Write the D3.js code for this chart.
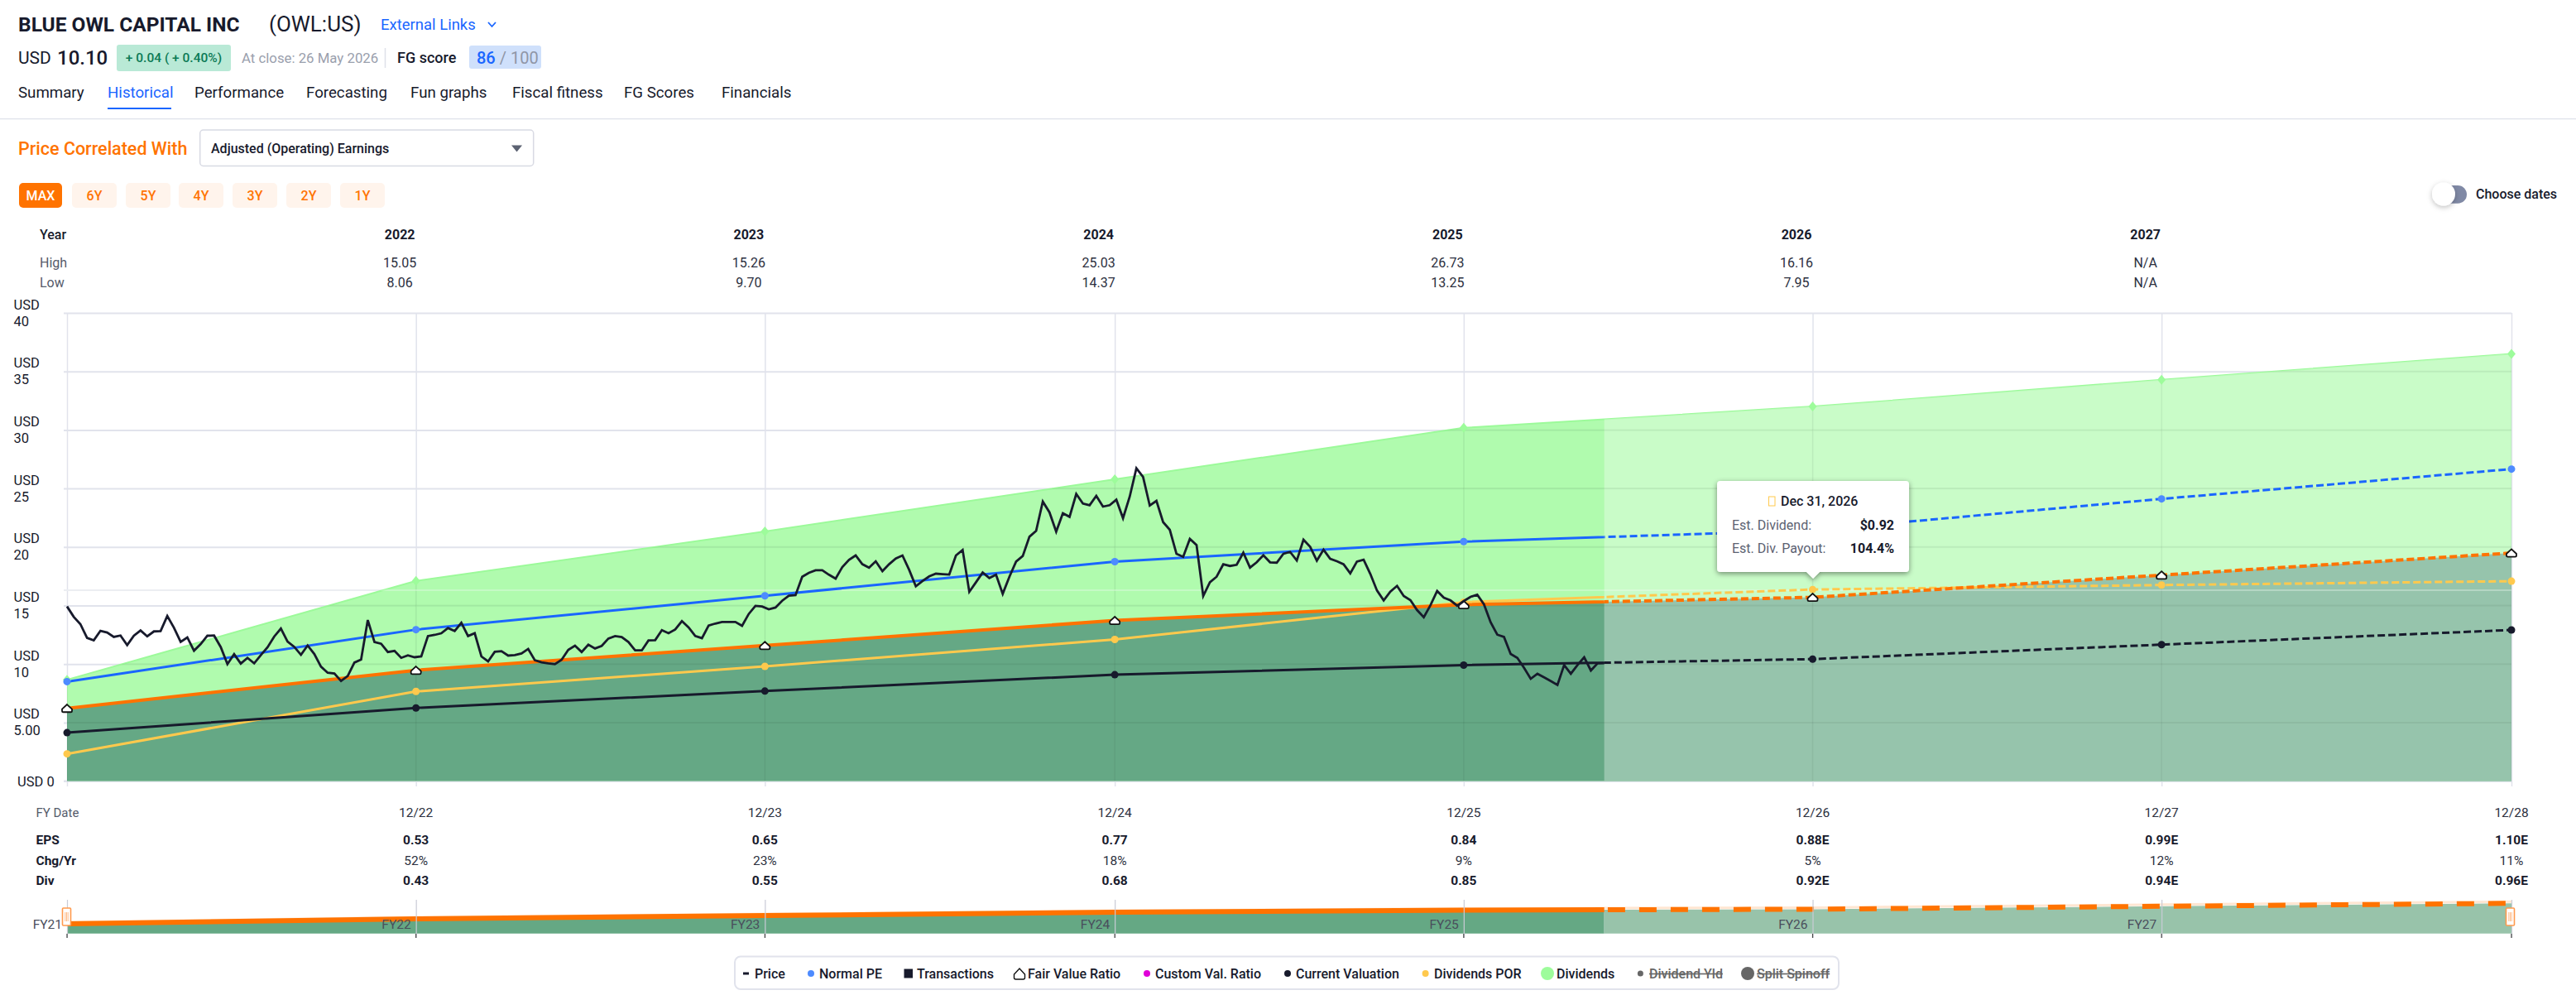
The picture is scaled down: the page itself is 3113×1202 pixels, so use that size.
<!DOCTYPE html>
<html><head><meta charset="utf-8">
<script src="https://cdn.jsdelivr.net/npm/d3@7/dist/d3.min.js"></script>
<style>
html,body{margin:0;padding:0;background:#fff;width:3113px;height:1202px;overflow:hidden}
svg{display:block;font-family:Roboto,sans-serif}
text{font-family:Roboto,sans-serif}
</style></head><body>
<svg id="c" width="3113" height="1202" viewBox="0 0 3113 1202"></svg>
<script>
// ---- data ----
const fyLabels=["12/21","12/22","12/23","12/24","12/25","12/26","12/27","12/28"];
const fyDates=["2021-12-31","2022-12-31","2023-12-31","2024-12-31","2025-12-31","2026-12-31","2027-12-31","2028-12-31"];
const normalPE=[8.50,12.94,15.83,18.75,20.46,21.43,24.11,26.66];
const currentVal=[4.14,6.25,7.69,9.09,9.91,10.42,11.66,12.91];
const fairValue=[6.22,9.47,11.58,13.72,15.07,15.70,17.60,19.49];
const dividendsPOR=[2.33,7.66,9.80,12.10,15.29,16.37,16.75,17.08];
const dividends=[8.66,17.10,21.33,25.79,30.18,32.00,34.29,36.50];
const priceFirstDate="2021-12-31", priceLastDate="2026-05-27";
const priceValues=[14.92,14.04,13.41,12.23,12.02,12.84,12.70,12.32,12.44,11.62,12.42,12.87,12.37,12.79,12.82,14.11,13.10,11.90,12.28,11.14,11.71,12.42,12.44,11.45,9.99,10.84,10.04,10.53,10.06,10.77,11.43,12.35,13.03,11.92,11.47,10.79,11.59,10.86,9.78,9.26,9.19,8.55,8.98,10.13,10.39,13.76,11.88,11.73,11.03,11.12,10.53,10.74,10.58,10.65,12.39,12.49,12.63,13.08,12.82,13.53,12.39,12.63,10.65,10.23,11.05,11.10,10.72,10.77,10.91,11.29,10.32,10.15,10.06,9.99,10.37,11.22,11.57,11.03,11.66,11.33,11.55,12.18,12.39,12.30,
11.88,11.17,11.17,12.02,12.04,12.89,12.63,12.96,13.67,13.13,12.40,12.21,13.29,13.46,13.60,13.60,13.60,13.27,14.28,14.97,14.92,14.68,14.83,15.41,15.84,15.89,17.46,17.79,18.01,18.01,17.63,17.30,18.29,18.90,19.28,18.53,18.24,18.78,17.94,18.53,19.02,19.28,18.05,16.64,17.09,17.49,17.72,17.68,17.65,19.28,19.75,16.17,16.99,17.82,17.35,17.63,16.00,17.46,18.76,19.23,20.88,21.38,23.88,22.96,21.31,22.89,22.58,
24.53,23.71,23.57,24.37,23.45,23.57,24.04,22.46,24.30,26.73,25.99,23.54,23.94,22.13,21.47,19.42,19.16,20.69,20.17,15.81,16.99,17.46,18.52,18.38,18.48,19.51,18.24,18.69,19.30,18.69,18.66,19.42,19.58,18.85,20.62,20.01,18.83,19.77,18.99,18.78,18.52,17.75,18.76,18.92,17.70,16.28,15.44,16.19,16.68,15.81,15.46,14.61,14.00,15.03,16.24,15.67,15.44,14.99,15.39,15.74,15.93,15.11,13.57,12.51,12.32,10.86,10.53,9.68,8.74,9.17,8.86,8.55,8.22,9.92,9.17,9.92,10.58,9.45,10.06,10.08];
const yTicks=[0,5,10,15,20,25,30,35,40];
const yTickLabels=["USD 0","5.00","10","15","20","25","30","35","40"];
const highLine=16.3;
const tableYears=["2022","2023","2024","2025","2026","2027"];
const tableHigh=["15.05","15.26","25.03","26.73","16.16","N/A"];
const tableLow=["8.06","9.70","14.37","13.25","7.95","N/A"];
const epsRow=["0.53","0.65","0.77","0.84","0.88E","0.99E","1.10E"];
const chgRow=["52%","23%","18%","9%","5%","12%","11%"];
const divRow=["0.43","0.55","0.68","0.85","0.92E","0.94E","0.96E"];
const navLabels=["FY21","FY22","FY23","FY24","FY25","FY26","FY27"];
const tabs=["Summary","Historical","Performance","Forecasting","Fun graphs","Fiscal fitness","FG Scores","Financials"];
const ranges=["MAX","6Y","5Y","4Y","3Y","2Y","1Y"];

// ---- colours ----
const C={ink:"#171a2c",grid:"#e1e3ec",orange:"#ff7300",blue:"#1a66ff",blueM:"#4d8bff",yellow:"#ffc94d",green:"#9cfa9a",
 greenM:"#9dfc9b",dark:"#52937a",grey:"#555b6b"};

const svg=d3.select("#c");
const pd=d3.utcParse("%Y-%m-%d");
const dates=fyDates.map(pd);
const x=d3.scaleUtc().domain([dates[0],dates[7]]).range([81,3035]);
const y=d3.scaleLinear().domain([0,40]).range([943.6,378]);
const navY=d3.scaleLinear().domain([0,40]).range([1127.7,1053]);
const idxToDate=d3.scaleUtc().domain([0,priceValues.length-1]).range([pd(priceFirstDate),pd(priceLastDate)]);
const cut=pd(priceLastDate);
function T(sel,s,xx,yy,o={}){
  return sel.append("text").text(s).attr("x",xx).attr("y",yy).attr("dominant-baseline","central")
   .attr("font-size",o.size||16).attr("font-weight",o.w||400).attr("fill",o.fill||C.ink)
   .attr("text-anchor",o.anchor||"start").attr("text-decoration",o.deco||null);
}

// ---- header ----
const H=svg.append("g");
T(H,"BLUE OWL CAPITAL INC",22,29,{size:24.5,w:700});
T(H,"(OWL:US)",325,29,{size:26});
T(H,"External Links",460,30,{size:18.5,fill:C.blue});
H.append("path").attr("d","M590,27 l4.5,5 l4.5,-5").attr("fill","none").attr("stroke",C.blue).attr("stroke-width",1.8);
T(H,"USD",22,69.5,{size:21});
T(H,"10.10",69,69.5,{size:24,w:500});
H.append("rect").attr("x",141).attr("y",54).attr("width",138).attr("height",32).attr("rx",3).attr("fill","#b9e9d6");
T(H,"+ 0.04 ( + 0.40%)",210,69.5,{size:15.5,w:500,fill:"#0b7a55",anchor:"middle"});
T(H,"At close: 26 May 2026",292,69.5,{size:16.8,fill:"#9aa0ad"});
H.append("line").attr("x1",465.5).attr("x2",465.5).attr("y1",58).attr("y2",82).attr("stroke","#dfe1e8").attr("stroke-width",1.5);
T(H,"FG score",480,69.5,{size:18,w:500});
H.append("rect").attr("x",567).attr("y",55).attr("width",87).attr("height",28).attr("rx",3).attr("fill","#cfe0fb");
const fg=T(H,"86",576,69.5,{size:20,w:500,fill:C.blue});
fg.append("tspan").text(" / 100").attr("fill","#8f96a6").attr("font-weight",400);

const tabX=[22,130,235,370,496,619,754,872];
tabs.forEach((t,i)=>T(H,t,tabX[i],112,{size:18.7,fill:i==1?C.blue:C.ink}));
H.append("rect").attr("x",130).attr("y",130).attr("width",77).attr("height",2).attr("fill",C.blue);
H.append("line").attr("x1",0).attr("x2",3113).attr("y1",143.7).attr("y2",143.7).attr("stroke","#dfe1ea").attr("stroke-width",1.2);
T(H,"Price Correlated With",22,179,{size:21.5,w:500,fill:C.orange});
H.append("rect").attr("x",241.7).attr("y",157).attr("width",403).attr("height",43.5).attr("rx",4).attr("fill","#fff").attr("stroke","#d8dae3").attr("stroke-width",1.5);
T(H,"Adjusted (Operating) Earnings",255,179,{size:16,w:500});
H.append("path").attr("d","M618,175.5 h13 l-6.5,8 z").attr("fill","#5c6272");
const rangeX=[[23,75],[87,141],[152,206],[216,270],[281,335],[346,400],[411,465]];
ranges.forEach((r,i)=>{
  H.append("rect").attr("x",rangeX[i][0]).attr("y",221).attr("width",rangeX[i][1]-rangeX[i][0]).attr("height",30).attr("rx",5).attr("fill",i==0?"#ff7300":"#fff4ec");
  T(H,r,(rangeX[i][0]+rangeX[i][1])/2,236,{size:16,w:500,fill:i==0?"#fff":"#ff7300",anchor:"middle"});
});
// toggle
const tf=svg.append("defs").append("filter").attr("id","sh").attr("x","-50%").attr("y","-50%").attr("width","200%").attr("height","200%");
tf.append("feDropShadow").attr("dx",0).attr("dy",2).attr("stdDeviation",3).attr("flood-color","#000").attr("flood-opacity",.25);
H.append("rect").attr("x",2940).attr("y",224).attr("width",41).attr("height",21.7).attr("rx",10.8).attr("fill","#8089a5");
H.append("circle").attr("cx",2953).attr("cy",234.5).attr("r",14).attr("fill","#fff").attr("filter","url(#sh)");
T(H,"Choose dates",2992,234,{size:16,w:500});

// ---- top table ----
T(H,"Year",48,283,{size:16,w:500});
T(H,"High",48,317,{size:16,fill:C.grey});
T(H,"Low",48,341,{size:16,fill:C.grey});
const tableX=i=>x(dates[i+1])-19.5;
tableYears.forEach((v,i)=>{
  T(H,v,tableX(i),283,{size:16,w:700,anchor:"middle"});
  T(H,tableHigh[i],tableX(i),317,{size:16,anchor:"middle",fill:"#2c3040"});
  T(H,tableLow[i],tableX(i),341,{size:16,anchor:"middle",fill:"#2c3040"});
});

// ---- plot: gridlines ----
const G=svg.append("g");
const gridY=G.append("g").attr("transform","translate(77,0)").call(d3.axisLeft(y).tickValues(yTicks).tickSize(-(3035-77)).tickFormat(""));
gridY.select(".domain").remove();
gridY.selectAll("line").attr("stroke",C.grid).attr("stroke-width",2);
const gridX=G.append("g").attr("transform","translate(0,950)").call(d3.axisBottom(x).tickValues(dates).tickSize(-572).tickFormat(""));
gridX.select(".domain").remove();
gridX.selectAll("line").attr("stroke",C.grid).attr("stroke-width",1.5);
G.append("line").attr("x1",77).attr("x2",3035).attr("y1",y(highLine)).attr("y2",y(highLine)).attr("stroke","#eceef2").attr("stroke-width",2);

// y tick labels
yTicks.forEach((v,i)=>{
  if(v===0){T(G,yTickLabels[i],21,944,{size:16.5});return;}
  T(G,"USD",16.6,y(v)-10,{size:16.5});
  T(G,yTickLabels[i],16.6,y(v)+10,{size:16.5});
});

// ---- areas ----
const idx=d3.range(fyDates.length);
const area=(arr,yy)=>d3.area().x(i=>x(dates[i])).y0(yy(0)).y1(i=>yy(arr[i]));
const A=svg.append("g");
A.append("path").datum(idx).attr("d",area(dividends,y)).attr("fill",C.green).attr("fill-opacity",.8);
A.append("path").datum(idx).attr("d",d3.line().x(i=>x(dates[i])).y(i=>y(dividends[i]))).attr("fill","none").attr("stroke",C.green).attr("stroke-width",2);
A.append("path").datum(idx).attr("d",area(fairValue,y)).attr("fill",C.dark).attr("fill-opacity",.8);
// forecast wash: white veil from the last price date to the end
const defs=svg.select("defs");
defs.append("clipPath").attr("id","wash").append("path").datum(idx).attr("d",area(dividends,y));
A.append("rect").attr("x",x(cut)).attr("y",y(40)).attr("width",x(dates[7])-x(cut)).attr("height",y(0)-y(40)).attr("fill","#fff").attr("fill-opacity",.32).attr("clip-path","url(#wash)");
// grid seen through the areas
const overGrid=svg.append("g").attr("clip-path","url(#wash)");
yTicks.filter(v=>v>0).forEach(v=>overGrid.append("line").attr("x1",81).attr("x2",3035).attr("y1",y(v)).attr("y2",y(v)).attr("stroke","#000").attr("stroke-opacity",.05).attr("stroke-width",2));
dates.forEach(d=>overGrid.append("line").attr("x1",x(d)).attr("x2",x(d)).attr("y1",378).attr("y2",944).attr("stroke","#000").attr("stroke-opacity",.05).attr("stroke-width",1.5));
overGrid.append("line").attr("x1",81).attr("x2",3035).attr("y1",y(highLine)).attr("y2",y(highLine)).attr("stroke","#fff").attr("stroke-opacity",.3).attr("stroke-width",2);
// base line
G.append("line").attr("x1",77).attr("x2",3035).attr("y1",y(0)).attr("y2",y(0)).attr("stroke",C.grid).attr("stroke-width",2);

// ---- series lines split at the last price date ----
const L=svg.append("g");
defs.append("clipPath").attr("id","past").append("rect").attr("x",0).attr("y",0).attr("width",x(cut)).attr("height",1202);
defs.append("clipPath").attr("id","fut").append("rect").attr("x",x(cut)).attr("y",0).attr("width",3113).attr("height",1202);
function series(arr,col,w,dash){
  const ln=d3.line().x(i=>x(dates[i])).y(i=>y(arr[i]));
  L.append("path").datum(idx).attr("d",ln).attr("fill","none").attr("stroke",col).attr("stroke-width",w).attr("clip-path","url(#past)");
  L.append("path").datum(idx).attr("d",ln).attr("fill","none").attr("stroke",col).attr("stroke-width",w).attr("stroke-dasharray",dash).attr("clip-path","url(#fut)");
}
series(dividendsPOR,C.yellow,3,"9,4");
series(fairValue,C.orange,4,"9,4");
series(normalPE,C.blue,3,"9,4");
series(currentVal,C.ink,3,"9,4");

// markers
const M=svg.append("g");
M.selectAll(".gd").data(idx).join("path").attr("class","gd").attr("transform",i=>`translate(${x(dates[i])},${y(dividends[i])})`).attr("d","M0,-6 L5,0 L0,6 L-5,0Z").attr("fill",C.greenM);
M.selectAll(".pe").data(idx).join("circle").attr("class","pe").attr("cx",i=>x(dates[i])).attr("cy",i=>y(normalPE[i])).attr("r",4.5).attr("fill",C.blueM);
M.selectAll(".por").data(idx).join("circle").attr("class","por").attr("cx",i=>x(dates[i])).attr("cy",i=>y(dividendsPOR[i])).attr("r",4.5).attr("fill",C.yellow);
M.selectAll(".cv").data(idx).join("circle").attr("class","cv").attr("cx",i=>x(dates[i])).attr("cy",i=>y(currentVal[i])).attr("r",4.5).attr("fill",C.ink);
const house="M0,-4.6 L6,1 V3 Q6,4.6 4.4,4.6 H-4.4 Q-6,4.6 -6,3 V1 Z";
M.selectAll(".fv").data(idx).join("path").attr("class","fv").attr("transform",i=>`translate(${x(dates[i])},${y(fairValue[i])})`).attr("d",house).attr("fill","#fff").attr("stroke","#111").attr("stroke-width",1.8);

// price
const priceLine=d3.line().x((v,i)=>x(idxToDate(i))).y(v=>y(v));
svg.append("path").datum(priceValues).attr("d",priceLine).attr("fill","none").attr("stroke",C.ink).attr("stroke-width",2.8).attr("stroke-linejoin","miter");

// ---- tooltip ----
const tx=x(dates[5]);
const TT=svg.append("g");
const shf=defs.append("filter").attr("id","ttsh").attr("x","-20%").attr("y","-20%").attr("width","140%").attr("height","140%");
shf.append("feDropShadow").attr("dx",0).attr("dy",2).attr("stdDeviation",3).attr("flood-color","#000").attr("flood-opacity",.45);
TT.append("path").attr("d",`M${tx-115.5},585 q0,-4 4,-4 h224 q4,0 4,4 v102 q0,4 -4,4 h-104 l-8,8 l-8,-8 h-104 q-4,0 -4,-4 z`).attr("fill","#fff").attr("filter","url(#ttsh)");
TT.append("rect").attr("x",2137.5).attr("y",600).attr("width",7.5).attr("height",11).attr("fill","none").attr("stroke",C.yellow).attr("stroke-width",1);
T(TT,"Dec 31, 2026",2152,605,{size:16,w:500});
T(TT,"Est. Dividend:",2093,634,{size:16,fill:"#5c6272"});
T(TT,"$0.92",2289,634,{size:16,w:700,anchor:"end"});
T(TT,"Est. Div. Payout:",2093,662,{size:16,fill:"#5c6272"});
T(TT,"104.4%",2289,662,{size:16,w:700,anchor:"end"});

// ---- bottom table ----
const B=svg.append("g");
T(B,"FY Date",43.5,982,{size:15,fill:C.grey});
T(B,"EPS",43.5,1015,{size:15.5,w:700});
T(B,"Chg/Yr",43.5,1040,{size:15.5,w:700});
T(B,"Div",43.5,1064,{size:15.5,w:700});
fyLabels.slice(1).forEach((l,i)=>{
  const px=x(dates[i+1]);
  T(B,l,px,982,{size:15.5,anchor:"middle",fill:"#2c3040"});
  T(B,epsRow[i],px,1015,{size:15.5,w:700,anchor:"middle"});
  T(B,chgRow[i],px,1040,{size:15.5,anchor:"middle",fill:"#2c3040"});
  T(B,divRow[i],px,1064,{size:15.5,w:700,anchor:"middle"});
});

// ---- navigator ----
const N=svg.append("g");
N.append("path").datum(idx).attr("d",area(fairValue,navY)).attr("fill","#65a884").attr("clip-path","url(#past)");
N.append("path").datum(idx).attr("d",area(fairValue,navY)).attr("fill","#98c3aa").attr("clip-path","url(#fut)");
const nl=d3.line().x(i=>x(dates[i])).y(i=>navY(fairValue[i]));
N.append("path").datum(idx).attr("d",nl).attr("fill","none").attr("stroke","#ffe6d2").attr("stroke-width",3).attr("transform","translate(0,-2)");
N.append("path").datum(idx).attr("d",nl).attr("fill","none").attr("stroke",C.orange).attr("stroke-width",6).attr("clip-path","url(#past)");
N.append("path").datum(idx).attr("d",nl).attr("fill","none").attr("stroke",C.orange).attr("stroke-width",6).attr("stroke-dasharray","21,17").attr("clip-path","url(#fut)");
const navAxis=N.append("g").attr("transform","translate(0,1133)").call(d3.axisBottom(x).tickValues(dates).tickSize(-46).tickFormat(""));
navAxis.select(".domain").remove();
navAxis.selectAll("line").attr("stroke","#c9cbd6").attr("stroke-width",1.2);
dates.forEach(d=>N.append("line").attr("x1",x(d)).attr("x2",x(d)).attr("y1",1128).attr("y2",1133).attr("stroke","#444").attr("stroke-width",1.2));
navLabels.forEach((l,i)=>T(N,l,x(dates[i])-6,1117,{size:15.5,anchor:"end",fill:"#4a4e5c"}));
[[75,1097],[3028,1097]].forEach(([hx,hy])=>{
  N.append("rect").attr("x",hx+.5).attr("y",hy).attr("width",10).attr("height",21).attr("rx",1).attr("fill","#fff").attr("stroke","#ff9a4d").attr("stroke-width",1.6);
  [3.8,5.5,7.2].forEach(o=>N.append("line").attr("x1",hx+o).attr("x2",hx+o).attr("y1",hy+5).attr("y2",hy+16).attr("stroke","#ffb37a").attr("stroke-width",.9));
});

// ---- legend ----
const K=svg.append("g");
K.append("rect").attr("x",888).attr("y",1155.5).attr("width",1334).attr("height",39.5).attr("rx",7).attr("fill","#fff").attr("stroke","#e1e3ec").attr("stroke-width",2);
const ly=1176;
K.append("rect").attr("x",898).attr("y",ly-1.5).attr("width",7).attr("height",3).attr("fill",C.ink);
T(K,"Price",912,ly,{size:16,w:500});
K.append("circle").attr("cx",980).attr("cy",ly).attr("r",4).attr("fill",C.blueM);
T(K,"Normal PE",990,ly,{size:16,w:500});
K.append("rect").attr("x",1092.5).attr("y",ly-5.5).attr("width",10.5).attr("height",11).attr("fill",C.ink);
T(K,"Transactions",1108,ly,{size:16,w:500});
K.append("path").attr("transform",`translate(1232,${ly+1})`).attr("d","M0,-7 L6.5,0 V4 Q6.5,6 4.5,6 H-4.5 Q-6.5,6 -6.5,4 V0 Z").attr("fill","#fff").attr("stroke","#111").attr("stroke-width",1.4);
T(K,"Fair Value Ratio",1242,ly,{size:16,w:500});
K.append("circle").attr("cx",1386).attr("cy",ly).attr("r",4).attr("fill","#e000d8");
T(K,"Custom Val. Ratio",1396,ly,{size:16,w:500});
K.append("circle").attr("cx",1556).attr("cy",ly).attr("r",4).attr("fill",C.ink);
T(K,"Current Valuation",1566,ly,{size:16,w:500});
K.append("circle").attr("cx",1722.6).attr("cy",ly).attr("r",4).attr("fill",C.yellow);
T(K,"Dividends POR",1733,ly,{size:16,w:500});
K.append("circle").attr("cx",1870).attr("cy",ly).attr("r",8).attr("fill",C.greenM);
T(K,"Dividends",1881,ly,{size:16,w:500});
K.append("circle").attr("cx",1982.4).attr("cy",ly).attr("r",3.5).attr("fill","#666");
T(K,"Dividend Yld",1993,ly,{size:16,w:500,fill:"#666",deco:"line-through"});
K.append("circle").attr("cx",2112).attr("cy",ly).attr("r",8).attr("fill","#666");
T(K,"Split Spinoff",2123,ly,{size:16,w:500,fill:"#666",deco:"line-through"});
</script>
</body></html>
